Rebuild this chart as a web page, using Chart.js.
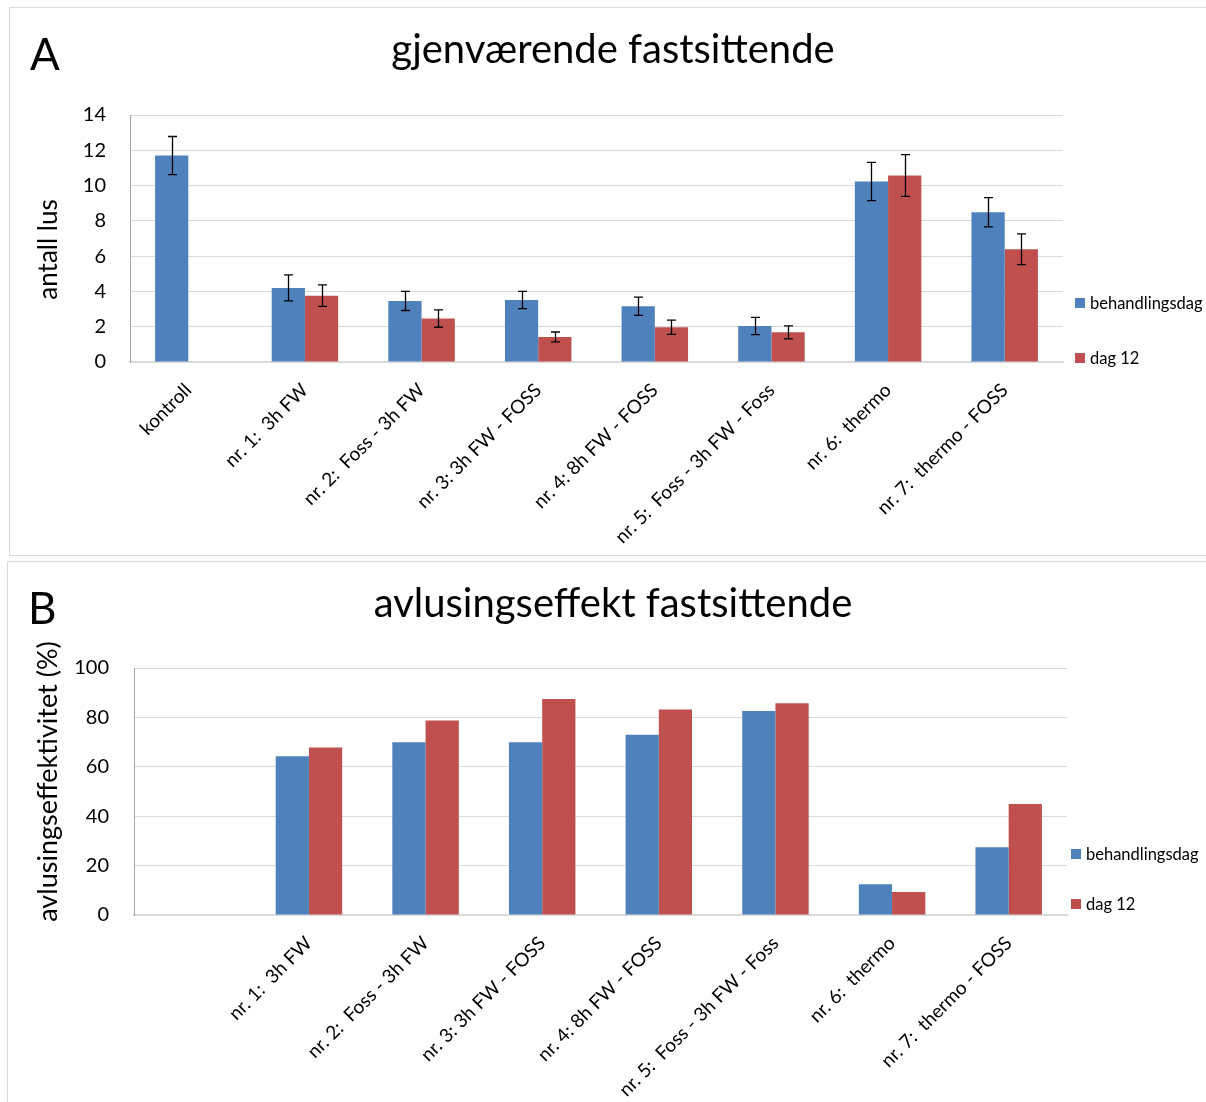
<!DOCTYPE html>
<html><head><meta charset="utf-8">
<script src="https://cdn.jsdelivr.net/npm/chart.js@4"></script>
<style>
html,body{margin:0;padding:0;background:#fff;}
body{width:1206px;height:1102px;overflow:hidden;position:relative;font-family:Lato,sans-serif;}
.panel{position:absolute;border:1px solid #d9d9d9;box-sizing:border-box;background:#fff;}
#pA{left:9px;top:7px;width:1220px;height:549px;}
#pB{left:7px;top:561px;width:1220px;height:560px;}
#cA{position:absolute;left:10px;top:8px;}
#cB{position:absolute;left:8px;top:562px;}
</style>
</head><body>
<div class="panel" id="pA"></div>
<div class="panel" id="pB"></div>
<canvas id="cA" width="1196" height="547" style="width:1196px;height:547px"></canvas>
<canvas id="cB" width="1198" height="540" style="width:1198px;height:540px"></canvas>
<script>
// ---- data ----
const seriesNames = ['behandlingsdag', 'dag 12'];
const categoriesA = ['kontroll', 'nr. 1:  3h FW', 'nr. 2:  Foss - 3h FW', 'nr. 3: 3h FW - FOSS', 'nr. 4: 8h FW - FOSS', 'nr. 5:  Foss - 3h FW - Foss', 'nr. 6:  thermo', 'nr. 7:  thermo - FOSS'];
const behandlingsdagA = [11.7, 4.2, 3.46, 3.51, 3.16, 2.04, 10.23, 8.49];
const dag12A = [null, 3.76, 2.46, 1.42, 1.97, 1.68, 10.57, 6.39];
const errBehandlingsdagA = [1.08, 0.74, 0.54, 0.49, 0.52, 0.49, 1.08, 0.83];
const errDag12A = [null, 0.61, 0.49, 0.28, 0.40, 0.37, 1.18, 0.87];
const categoriesB = ['', 'nr. 1:  3h FW', 'nr. 2:  Foss - 3h FW', 'nr. 3: 3h FW - FOSS', 'nr. 4: 8h FW - FOSS', 'nr. 5:  Foss - 3h FW - Foss', 'nr. 6:  thermo', 'nr. 7:  thermo - FOSS'];
const behandlingsdagB = [null, 64.3, 69.9, 69.9, 73.0, 82.6, 12.4, 27.4];
const dag12B = [null, 67.8, 78.7, 87.4, 83.2, 85.7, 9.3, 44.9];
const ticksA = {min: 0, max: 14, step: 2};
const ticksB = {min: 0, max: 100, step: 20};

const BLUE = '#4F81BD', RED = '#C0504D';
const FONT = 'Lato';

const errorBars = {
  id: 'errorBars',
  afterDatasetsDraw(chart) {
    const ctx = chart.ctx, y = chart.scales.y;
    chart.data.datasets.forEach((ds, i) => {
      if (!ds.errors) return;
      const meta = chart.getDatasetMeta(i);
      meta.data.forEach((bar, j) => {
        const v = ds.data[j], e = ds.errors[j];
        if (v == null || e == null) return;
        const t = y.getPixelForValue(v + e), b = y.getPixelForValue(v - e);
        const x = Math.round(bar.x) + 0.5;
        ctx.save();
        ctx.strokeStyle = '#000'; ctx.lineWidth = 1.3;
        ctx.beginPath();
        ctx.moveTo(x, t); ctx.lineTo(x, b);
        ctx.moveTo(x - 4.5, t); ctx.lineTo(x + 4.5, t);
        ctx.moveTo(x - 4.5, b); ctx.lineTo(x + 4.5, b);
        ctx.stroke();
        ctx.restore();
      });
    });
  }
};

const sideLegend = {
  id: 'sideLegend',
  afterDraw(chart, args, opts) {
    const ca = chart.chartArea, ctx = chart.ctx;
    ctx.save();
    chart.data.datasets.forEach((ds, i) => {
      const yy = ca.bottom + opts.offsets[i];
      const x0 = ca.right + opts.dx;
      ctx.fillStyle = ds.backgroundColor;
      ctx.fillRect(x0, yy - 5, 10, 10);
      ctx.fillStyle = '#000';
      ctx.font = '16.5px ' + FONT;
      ctx.textBaseline = 'middle';
      ctx.textAlign = 'left';
      ctx.fillText(ds.label, x0 + 15, yy + 1);
    });
    ctx.restore();
  }
};

const panelTexts = {
  id: 'panelTexts',
  afterDraw(chart, args, opts) {
    const ctx = chart.ctx, ca = chart.chartArea;
    ctx.save();
    ctx.fillStyle = '#000';
    ctx.textBaseline = 'alphabetic';
    // panel letter
    ctx.font = '44px ' + FONT;
    ctx.textAlign = 'left';
    ctx.fillText(opts.letter, 20, 62);
    // chart title
    ctx.font = '40px ' + FONT;
    ctx.textAlign = 'center';
    ctx.fillText(opts.title, opts.titleX, 55);
    // y axis title
    ctx.translate(opts.yTitleX, (ca.top + ca.bottom) / 2 + opts.yTitleDy);
    ctx.rotate(-Math.PI / 2);
    ctx.font = opts.yTitleSize + 'px ' + FONT;
    ctx.textAlign = 'center';
    ctx.textBaseline = 'middle';
    ctx.fillText(opts.yTitle, 0, 0);
    ctx.restore();
  }
};

function makeChart(id, cfg) {
  const datasets = [
    {label: seriesNames[0], data: cfg.blue, backgroundColor: BLUE, errors: cfg.errBlue},
    {label: seriesNames[1], data: cfg.red, backgroundColor: RED, errors: cfg.errRed}
  ];
  return new Chart(document.getElementById(id), {
    type: 'bar',
    data: {labels: cfg.labels, datasets},
    options: {
      responsive: false,
      animation: false,
      events: [],
      datasets: {bar: {categoryPercentage: 0.57, barPercentage: 1.0}},
      layout: {padding: {left: 0, right: cfg.padR, top: cfg.padT, bottom: 0}},
      plugins: {
        legend: {display: false},
        tooltip: {enabled: false},
        title: {display: false},
        sideLegend: {dx: cfg.legDx, offsets: cfg.legOffsets},
        panelTexts: {letter: cfg.letter, title: cfg.title, titleX: cfg.titleX,
                     yTitle: cfg.yTitle, yTitleX: cfg.yTitleX, yTitleDy: cfg.yTitleDy, yTitleSize: cfg.yTitleSize}
      },
      scales: {
        x: {
          grid: {display: false, drawTicks: false},
          border: {display: true, color: '#d9d9d9', width: 2},
          ticks: {color: '#000', font: {family: FONT, size: 19}, minRotation: 45, maxRotation: 45, autoSkip: false, padding: 17},
          afterFit: s => { s.height = cfg.xH; }
        },
        y: {
          min: cfg.ticks.min, max: cfg.ticks.max,
          grid: {color: '#d9d9d9', lineWidth: 1, drawTicks: false},
          border: {display: true, color: '#a6a6a6', width: 1},
          ticks: {stepSize: cfg.ticks.step, color: '#000', font: {family: FONT, size: 20}, padding: cfg.tickPad},
          afterFit: s => { s.width = cfg.yW; }
        }
      }
    },
    plugins: [errorBars, sideLegend, panelTexts]
  });
}

makeChart('cA', {
  labels: categoriesA, blue: behandlingsdagA, red: dag12A,
  errBlue: errBehandlingsdagA, errRed: errDag12A,
  title: 'gjenværende fastsittende', titleX: 603, letter: 'A',
  yTitle: 'antall lus', yTitleX: 39, yTitleDy: 11, yTitleSize: 26,
  ticks: ticksA, padR: 143, padT: 107, yW: 120, tickPad: 24, xH: 193,
  legDx: 12, legOffsets: [-59, -4]
});
makeChart('cB', {
  labels: categoriesB, blue: behandlingsdagB, red: dag12B,
  errBlue: null, errRed: null,
  title: 'avlusingseffekt fastsittende', titleX: 605, letter: 'B',
  yTitle: 'avlusingseffektivitet (%)', yTitleX: 40, yTitleDy: -10, yTitleSize: 27,
  ticks: ticksB, padR: 139, padT: 106, yW: 126, tickPad: 25, xH: 187,
  legDx: 4, legOffsets: [-61, -11]
});
</script>
</body></html>
